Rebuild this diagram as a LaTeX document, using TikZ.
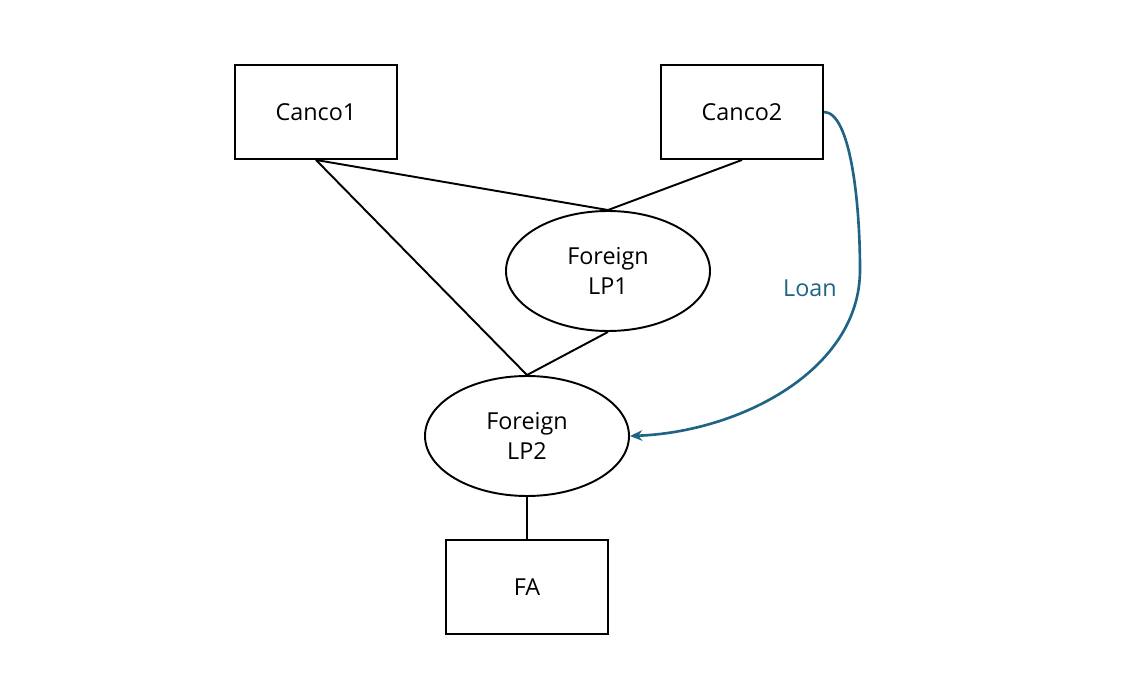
\documentclass[tikz,border=0pt]{standalone}
\usepackage{fontspec}
\setmainfont{Open Sans}
\usetikzlibrary{shapes.geometric,arrows.meta}
\definecolor{loanblue}{HTML}{1F6484}
\begin{document}
\begin{tikzpicture}[x=0.02cm,y=-0.02cm,
  every node/.style={font=\fontsize{13.3}{17}\selectfont, align=center},
  boxnode/.style={draw, line width=1.1pt, minimum width=162*0.02cm, minimum height=94*0.02cm, inner sep=0pt},
  ellnode/.style={draw, ellipse, line width=1.1pt, minimum width=204*0.02cm, minimum height=120*0.02cm, inner sep=0pt},
  link/.style={line width=1.1pt},
  loan/.style={draw=loanblue, line width=1.5pt, -{Stealth[length=7pt,width=6pt]}}]
\useasboundingbox (0,0) rectangle (1123,689);
\node[boxnode] (c1) at (316,112) {Canco1};
\node[boxnode] (c2) at (742,112) {Canco2};
\node[ellnode] (lp1) at (608,271) {Foreign\\LP1};
\node[ellnode] (lp2) at (527,436) {Foreign\\LP2};
\node[boxnode] (fa) at (527,587) {FA};
\draw[link] (c1.south) -- (lp1.north);
\draw[link] (c2.south) -- (lp1.north);
\draw[link] (c1.south) -- (lp2.north);
\draw[link] (lp1.south) -- (lp2.north);
\draw[link] (lp2.south) -- (fa.north);
\coordinate (mid) at (860,270);
\draw[loan] (c2.east) .. controls (850,112) and (860,200) .. (mid) .. controls (860,370) and (740,432) .. (lp2.east);
\node[text=loanblue] (loanlbl) at (810,288) {Loan};
\end{tikzpicture}
\end{document}
